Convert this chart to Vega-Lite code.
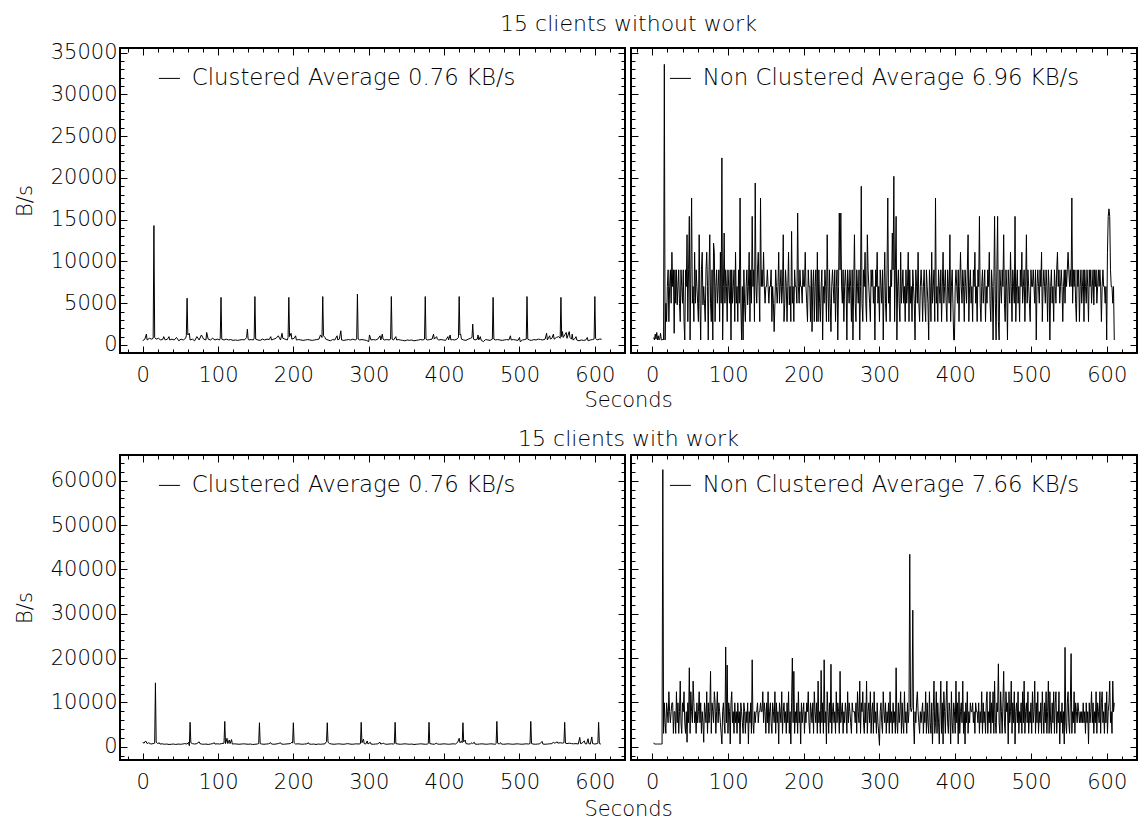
{
"$schema": "https://vega.github.io/schema/vega-lite/v6.json",
"background": "white",
"padding": {"left": 13, "top": 11, "right": 2, "bottom": 2},
"config": {
 "font": "DejaVu Sans",
 "view": {"stroke": "black", "strokeWidth": 2},
 "line": {"strokeWidth": 1, "strokeJoin": "round"},
 "axis": {"domain": false, "grid": false, "ticks": true, "tickColor": "black", "tickWidth": 1, "tickOpacity": 1, "labelFont": "DejaVu Sans", "labelFontSize": 21, "labelFontWeight": 200, "labelColor": "black", "labelFlush": false, "labelOverlap": false, "labelBound": false, "titleFont": "DejaVu Sans", "titleFontSize": 21, "titleFontWeight": 200, "titleColor": "black"},
 "legend": {"orient": "none", "legendX": 38, "legendY": 19, "symbolType": "stroke", "symbolSize": 441, "symbolStrokeWidth": 1, "labelFont": "DejaVu Sans", "labelFontSize": 22.8, "labelFontWeight": 200, "labelColor": "black", "labelLimit": 0, "labelOffset": 11, "padding": 0}
},
"datasets": {
"tl": [{"s":0,"b":500},{"s":3,"b":700},{"s":5,"b":1300},{"s":6,"b":600},{"s":9,"b":800},{"s":12,"b":700},{"s":14,"b":800},{"s":15,"b":14300},{"s":16,"b":900},{"s":18,"b":700},
{"s":21,"b":800},{"s":24,"b":600},{"s":27,"b":700},{"s":28,"b":1000},{"s":30,"b":600},{"s":33,"b":700},{"s":35,"b":1000},{"s":36,"b":600},{"s":39,"b":700},{"s":42,"b":600},
{"s":45,"b":900},{"s":48,"b":500},{"s":51,"b":700},{"s":54,"b":600},{"s":57,"b":800},{"s":58,"b":1100},{"s":59,"b":5600},{"s":60,"b":1200},{"s":62,"b":1400},{"s":63,"b":600},
{"s":66,"b":700},{"s":69,"b":500},{"s":72,"b":1000},{"s":75,"b":600},{"s":78,"b":1200},{"s":81,"b":700},{"s":84,"b":600},{"s":85,"b":1500},{"s":87,"b":700},{"s":90,"b":600},
{"s":93,"b":800},{"s":96,"b":600},{"s":99,"b":700},{"s":102,"b":600},{"s":103,"b":800},{"s":104,"b":5700},{"s":105,"b":700},{"s":108,"b":600},{"s":111,"b":700},{"s":114,"b":600},
{"s":117,"b":650},{"s":120,"b":550},{"s":123,"b":600},{"s":126,"b":550},{"s":129,"b":600},{"s":132,"b":650},{"s":135,"b":600},{"s":138,"b":900},{"s":139,"b":1900},{"s":140,"b":700},
{"s":141,"b":600},{"s":144,"b":650},{"s":147,"b":600},{"s":148,"b":800},{"s":149,"b":5800},{"s":150,"b":700},{"s":153,"b":600},{"s":156,"b":550},{"s":159,"b":700},{"s":162,"b":600},
{"s":165,"b":700},{"s":168,"b":650},{"s":170,"b":1000},{"s":171,"b":600},{"s":174,"b":700},{"s":177,"b":800},{"s":180,"b":1100},{"s":183,"b":600},{"s":185,"b":1400},{"s":186,"b":800},
{"s":189,"b":700},{"s":192,"b":600},{"s":193,"b":900},{"s":194,"b":5700},{"s":195,"b":1000},{"s":197,"b":1400},{"s":198,"b":700},{"s":201,"b":800},{"s":203,"b":1100},{"s":204,"b":600},
{"s":207,"b":650},{"s":210,"b":600},{"s":213,"b":550},{"s":216,"b":600},{"s":219,"b":650},{"s":222,"b":600},{"s":225,"b":550},{"s":228,"b":600},{"s":231,"b":650},{"s":234,"b":700},
{"s":236,"b":1200},{"s":238,"b":900},{"s":239,"b":5800},{"s":240,"b":1100},{"s":242,"b":900},{"s":243,"b":700},{"s":246,"b":600},{"s":249,"b":500},{"s":252,"b":650},{"s":255,"b":600},
{"s":258,"b":1100},{"s":259,"b":600},{"s":261,"b":700},{"s":263,"b":1700},{"s":264,"b":600},{"s":267,"b":550},{"s":270,"b":600},{"s":273,"b":650},{"s":276,"b":600},{"s":279,"b":700},
{"s":282,"b":600},{"s":284,"b":700},{"s":285,"b":6100},{"s":286,"b":700},{"s":288,"b":600},{"s":291,"b":650},{"s":294,"b":600},{"s":297,"b":550},{"s":300,"b":400},{"s":301,"b":1200},
{"s":303,"b":600},{"s":306,"b":650},{"s":309,"b":600},{"s":312,"b":700},{"s":315,"b":1100},{"s":316,"b":600},{"s":318,"b":1300},{"s":319,"b":700},{"s":321,"b":600},{"s":324,"b":650},
{"s":327,"b":600},{"s":329,"b":700},{"s":330,"b":5800},{"s":331,"b":700},{"s":333,"b":600},{"s":336,"b":1000},{"s":337,"b":600},{"s":339,"b":650},{"s":342,"b":600},{"s":345,"b":550},
{"s":348,"b":500},{"s":351,"b":600},{"s":354,"b":550},{"s":357,"b":600},{"s":360,"b":500},{"s":363,"b":550},{"s":366,"b":600},{"s":369,"b":650},{"s":372,"b":600},{"s":374,"b":700},
{"s":375,"b":5800},{"s":376,"b":700},{"s":378,"b":600},{"s":381,"b":650},{"s":384,"b":700},{"s":386,"b":1300},{"s":387,"b":700},{"s":390,"b":1000},{"s":391,"b":700},{"s":393,"b":600},
{"s":396,"b":650},{"s":399,"b":600},{"s":402,"b":550},{"s":405,"b":1000},{"s":406,"b":600},{"s":408,"b":1200},{"s":409,"b":600},{"s":411,"b":650},{"s":414,"b":600},{"s":417,"b":700},
{"s":419,"b":900},{"s":420,"b":5800},{"s":421,"b":1200},{"s":422,"b":1300},{"s":423,"b":700},{"s":426,"b":600},{"s":429,"b":550},{"s":432,"b":700},{"s":435,"b":800},{"s":437,"b":900},
{"s":438,"b":2500},{"s":439,"b":700},{"s":441,"b":600},{"s":444,"b":700},{"s":445,"b":1200},{"s":446,"b":600},{"s":448,"b":1000},{"s":449,"b":600},{"s":452,"b":400},{"s":455,"b":650},
{"s":458,"b":600},{"s":461,"b":550},{"s":464,"b":700},{"s":465,"b":5700},{"s":466,"b":700},{"s":468,"b":600},{"s":471,"b":650},{"s":474,"b":600},{"s":477,"b":550},{"s":480,"b":600},
{"s":483,"b":650},{"s":486,"b":600},{"s":488,"b":1100},{"s":489,"b":600},{"s":492,"b":650},{"s":495,"b":600},{"s":498,"b":550},{"s":500,"b":900},{"s":501,"b":400},{"s":504,"b":600},
{"s":507,"b":650},{"s":509,"b":700},{"s":510,"b":5800},{"s":511,"b":700},{"s":513,"b":600},{"s":516,"b":550},{"s":519,"b":650},{"s":522,"b":600},{"s":525,"b":700},{"s":528,"b":650},
{"s":531,"b":600},{"s":534,"b":700},{"s":536,"b":1400},{"s":537,"b":600},{"s":540,"b":1100},{"s":541,"b":700},{"s":543,"b":800},{"s":545,"b":1300},{"s":546,"b":700},{"s":549,"b":900},
{"s":552,"b":1000},{"s":554,"b":800},{"s":555,"b":5700},{"s":556,"b":1000},{"s":557,"b":1600},{"s":558,"b":900},{"s":560,"b":1200},{"s":562,"b":1500},{"s":563,"b":800},{"s":566,"b":1600},
{"s":567,"b":900},{"s":569,"b":700},{"s":570,"b":1300},{"s":571,"b":600},{"s":573,"b":700},{"s":575,"b":1000},{"s":576,"b":600},{"s":579,"b":500},{"s":582,"b":600},{"s":585,"b":550},
{"s":588,"b":600},{"s":590,"b":900},{"s":591,"b":500},{"s":594,"b":600},{"s":597,"b":650},{"s":599,"b":700},{"s":600,"b":5800},{"s":601,"b":800},{"s":603,"b":600},{"s":606,"b":700},{"s":609,"b":700}],
"bl": [{"s":0,"b":1000},{"s":2,"b":800},{"s":4,"b":1300},{"s":6,"b":700},{"s":8,"b":900},{"s":11,"b":600},{"s":14,"b":700},{"s":16,"b":800},{"s":17,"b":14400},{"s":18,"b":1000},
{"s":20,"b":700},{"s":22,"b":900},{"s":23,"b":600},{"s":26,"b":650},{"s":29,"b":550},{"s":32,"b":600},{"s":35,"b":500},{"s":38,"b":550},{"s":41,"b":600},{"s":44,"b":500},
{"s":47,"b":600},{"s":50,"b":550},{"s":53,"b":600},{"s":56,"b":700},{"s":59,"b":600},{"s":61,"b":1000},{"s":62,"b":200},{"s":63,"b":5500},{"s":64,"b":900},{"s":66,"b":700},
{"s":69,"b":600},{"s":72,"b":700},{"s":75,"b":1100},{"s":76,"b":700},{"s":78,"b":600},{"s":81,"b":550},{"s":84,"b":600},{"s":87,"b":500},{"s":90,"b":600},{"s":93,"b":700},
{"s":95,"b":900},{"s":96,"b":600},{"s":99,"b":650},{"s":102,"b":600},{"s":105,"b":700},{"s":108,"b":800},{"s":109,"b":5700},{"s":110,"b":700},{"s":112,"b":1900},{"s":113,"b":700},
{"s":115,"b":1500},{"s":116,"b":700},{"s":118,"b":1600},{"s":119,"b":600},{"s":122,"b":650},{"s":125,"b":600},{"s":128,"b":550},{"s":131,"b":600},{"s":134,"b":650},{"s":137,"b":600},
{"s":140,"b":550},{"s":143,"b":600},{"s":146,"b":500},{"s":149,"b":550},{"s":152,"b":600},{"s":154,"b":700},{"s":155,"b":5400},{"s":156,"b":700},{"s":158,"b":600},{"s":161,"b":550},
{"s":164,"b":600},{"s":167,"b":650},{"s":170,"b":900},{"s":171,"b":600},{"s":174,"b":550},{"s":177,"b":600},{"s":180,"b":700},{"s":183,"b":900},{"s":184,"b":600},{"s":187,"b":550},
{"s":190,"b":600},{"s":193,"b":650},{"s":196,"b":700},{"s":198,"b":1000},{"s":199,"b":800},{"s":200,"b":5400},{"s":201,"b":900},{"s":203,"b":600},{"s":206,"b":650},{"s":209,"b":600},
{"s":212,"b":550},{"s":215,"b":600},{"s":218,"b":650},{"s":220,"b":900},{"s":221,"b":600},{"s":224,"b":550},{"s":227,"b":600},{"s":230,"b":500},{"s":233,"b":600},{"s":236,"b":550},
{"s":239,"b":600},{"s":242,"b":650},{"s":244,"b":1200},{"s":245,"b":5400},{"s":246,"b":1000},{"s":248,"b":700},{"s":251,"b":600},{"s":254,"b":550},{"s":257,"b":600},{"s":260,"b":650},
{"s":263,"b":600},{"s":266,"b":550},{"s":269,"b":600},{"s":272,"b":700},{"s":275,"b":600},{"s":278,"b":550},{"s":281,"b":600},{"s":284,"b":650},{"s":287,"b":600},{"s":289,"b":700},
{"s":290,"b":5500},{"s":291,"b":900},{"s":293,"b":1700},{"s":294,"b":700},{"s":296,"b":600},{"s":298,"b":1300},{"s":299,"b":600},{"s":302,"b":1000},{"s":303,"b":600},{"s":306,"b":550},
{"s":309,"b":600},{"s":312,"b":650},{"s":315,"b":1000},{"s":316,"b":600},{"s":318,"b":700},{"s":320,"b":800},{"s":321,"b":600},{"s":324,"b":550},{"s":327,"b":600},{"s":330,"b":650},
{"s":333,"b":600},{"s":334,"b":700},{"s":335,"b":5500},{"s":336,"b":700},{"s":339,"b":600},{"s":342,"b":550},{"s":345,"b":600},{"s":348,"b":650},{"s":351,"b":600},{"s":354,"b":550},
{"s":357,"b":600},{"s":360,"b":500},{"s":363,"b":550},{"s":366,"b":600},{"s":369,"b":650},{"s":372,"b":600},{"s":375,"b":550},{"s":378,"b":600},{"s":379,"b":700},{"s":380,"b":5500},
{"s":381,"b":700},{"s":384,"b":600},{"s":387,"b":550},{"s":390,"b":800},{"s":391,"b":600},{"s":394,"b":550},{"s":397,"b":600},{"s":400,"b":650},{"s":403,"b":600},{"s":406,"b":550},
{"s":409,"b":600},{"s":412,"b":650},{"s":415,"b":600},{"s":418,"b":1000},{"s":420,"b":1900},{"s":421,"b":900},{"s":423,"b":1200},{"s":424,"b":900},{"s":425,"b":5400},{"s":426,"b":1100},
{"s":428,"b":1500},{"s":429,"b":700},{"s":432,"b":600},{"s":435,"b":650},{"s":437,"b":900},{"s":438,"b":700},{"s":440,"b":1000},{"s":441,"b":600},{"s":444,"b":550},{"s":447,"b":600},
{"s":450,"b":650},{"s":453,"b":600},{"s":456,"b":550},{"s":459,"b":600},{"s":462,"b":650},{"s":465,"b":600},{"s":468,"b":550},{"s":469,"b":700},{"s":470,"b":5700},{"s":471,"b":800},
{"s":473,"b":600},{"s":475,"b":900},{"s":476,"b":600},{"s":479,"b":550},{"s":482,"b":600},{"s":485,"b":650},{"s":488,"b":600},{"s":491,"b":550},{"s":494,"b":600},{"s":497,"b":650},
{"s":500,"b":600},{"s":503,"b":550},{"s":506,"b":600},{"s":509,"b":650},{"s":512,"b":600},{"s":514,"b":700},{"s":515,"b":5700},{"s":516,"b":700},{"s":518,"b":600},{"s":521,"b":550},
{"s":524,"b":600},{"s":527,"b":650},{"s":530,"b":1200},{"s":531,"b":600},{"s":534,"b":550},{"s":537,"b":600},{"s":540,"b":650},{"s":543,"b":700},{"s":545,"b":1000},{"s":546,"b":800},
{"s":548,"b":900},{"s":550,"b":1100},{"s":551,"b":800},{"s":554,"b":900},{"s":557,"b":800},{"s":559,"b":900},{"s":560,"b":5500},{"s":561,"b":800},{"s":563,"b":700},{"s":566,"b":800},
{"s":569,"b":700},{"s":572,"b":650},{"s":575,"b":700},{"s":578,"b":600},{"s":580,"b":2100},{"s":581,"b":700},{"s":583,"b":800},{"s":586,"b":1300},{"s":587,"b":700},{"s":589,"b":600},
{"s":591,"b":1800},{"s":592,"b":700},{"s":594,"b":600},{"s":596,"b":2200},{"s":597,"b":700},{"s":600,"b":600},{"s":603,"b":700},{"s":604,"b":800},{"s":605,"b":5500},{"s":606,"b":700},{"s":608,"b":600}],
"tr": [{"s":2,"b":900},{"s":3,"b":600},{"s":4,"b":1300},{"s":5,"b":700},{"s":6,"b":1500},{"s":7,"b":600},{"s":8,"b":1100},{"s":9,"b":600},{"s":10,"b":800},
{"s":11,"b":1400},{"s":12,"b":600},{"s":13,"b":600},{"s":14,"b":700},{"s":15,"b":600},{"s":16,"b":33600},{"s":17,"b":600},{"s":18,"b":5000},{"s":19,"b":2800},{"s":20,"b":7000},
{"s":21,"b":9000},{"s":22,"b":2800},{"s":23,"b":7000},{"s":24,"b":9000},{"s":25,"b":5000},{"s":26,"b":11100},{"s":27,"b":7000},{"s":28,"b":9000},{"s":29,"b":1400},{"s":30,"b":9000},
{"s":31,"b":5000},{"s":32,"b":9000},{"s":33,"b":4800},{"s":34,"b":7000},{"s":35,"b":9000},{"s":36,"b":5000},{"s":37,"b":2800},{"s":38,"b":9000},{"s":39,"b":7000},{"s":40,"b":5000},
{"s":41,"b":9000},{"s":42,"b":2800},{"s":43,"b":600},{"s":44,"b":9000},{"s":45,"b":7000},{"s":46,"b":13200},{"s":47,"b":2800},{"s":48,"b":9000},{"s":49,"b":15400},{"s":50,"b":600},
{"s":51,"b":9000},{"s":52,"b":17600},{"s":53,"b":5000},{"s":54,"b":7000},{"s":55,"b":2800},{"s":56,"b":11100},{"s":57,"b":5000},{"s":58,"b":9000},{"s":59,"b":7000},{"s":60,"b":5000},
{"s":61,"b":2800},{"s":62,"b":13200},{"s":63,"b":5000},{"s":64,"b":600},{"s":65,"b":9000},{"s":66,"b":11100},{"s":67,"b":4800},{"s":68,"b":7000},{"s":69,"b":5000},{"s":70,"b":2800},
{"s":71,"b":9000},{"s":72,"b":11100},{"s":73,"b":7000},{"s":74,"b":600},{"s":75,"b":9000},{"s":76,"b":13200},{"s":77,"b":5000},{"s":78,"b":2800},{"s":79,"b":9000},{"s":80,"b":600},
{"s":81,"b":12200},{"s":82,"b":11100},{"s":83,"b":2800},{"s":84,"b":7000},{"s":85,"b":9000},{"s":86,"b":5000},{"s":87,"b":7000},{"s":88,"b":9000},{"s":89,"b":2800},{"s":90,"b":11100},
{"s":91,"b":5000},{"s":92,"b":22400},{"s":93,"b":600},{"s":94,"b":7000},{"s":95,"b":13400},{"s":96,"b":5000},{"s":97,"b":9000},{"s":98,"b":7000},{"s":99,"b":2800},{"s":100,"b":9000},
{"s":101,"b":7000},{"s":102,"b":5000},{"s":103,"b":9000},{"s":104,"b":600},{"s":105,"b":9000},{"s":106,"b":5000},{"s":107,"b":7000},{"s":108,"b":9000},{"s":109,"b":2800},{"s":110,"b":11100},
{"s":111,"b":5000},{"s":112,"b":7000},{"s":113,"b":2800},{"s":114,"b":9000},{"s":115,"b":5000},{"s":116,"b":17600},{"s":117,"b":5000},{"s":118,"b":600},{"s":119,"b":7000},{"s":120,"b":600},
{"s":121,"b":9000},{"s":122,"b":5000},{"s":123,"b":2800},{"s":124,"b":7000},{"s":125,"b":9000},{"s":126,"b":4800},{"s":127,"b":7000},{"s":128,"b":11100},{"s":129,"b":2800},{"s":130,"b":9000},
{"s":131,"b":5000},{"s":132,"b":15400},{"s":133,"b":7000},{"s":134,"b":9000},{"s":135,"b":2800},{"s":136,"b":19400},{"s":137,"b":7000},{"s":138,"b":5000},{"s":139,"b":9000},{"s":140,"b":11100},
{"s":141,"b":7000},{"s":142,"b":2800},{"s":143,"b":17600},{"s":144,"b":7000},{"s":145,"b":9000},{"s":146,"b":7000},{"s":147,"b":11100},{"s":148,"b":7000},{"s":149,"b":5000},{"s":150,"b":7000},
{"s":151,"b":7000},{"s":152,"b":9000},{"s":153,"b":7000},{"s":154,"b":5000},{"s":155,"b":7000},{"s":156,"b":7000},{"s":157,"b":9000},{"s":158,"b":2800},{"s":159,"b":7000},{"s":160,"b":5000},
{"s":161,"b":1600},{"s":162,"b":5000},{"s":163,"b":9000},{"s":164,"b":7000},{"s":165,"b":5000},{"s":166,"b":7000},{"s":167,"b":11100},{"s":168,"b":5000},{"s":169,"b":7000},{"s":170,"b":9000},
{"s":171,"b":5000},{"s":172,"b":7000},{"s":173,"b":13200},{"s":174,"b":2800},{"s":175,"b":5000},{"s":176,"b":9000},{"s":177,"b":7000},{"s":178,"b":2800},{"s":179,"b":7000},{"s":180,"b":11100},
{"s":181,"b":4800},{"s":182,"b":7000},{"s":183,"b":2800},{"s":184,"b":13600},{"s":185,"b":5000},{"s":186,"b":7000},{"s":187,"b":2800},{"s":188,"b":9000},{"s":189,"b":7000},{"s":190,"b":7000},
{"s":191,"b":5000},{"s":192,"b":15800},{"s":193,"b":7000},{"s":194,"b":5000},{"s":195,"b":9000},{"s":196,"b":7000},{"s":197,"b":7000},{"s":198,"b":5000},{"s":199,"b":9000},{"s":200,"b":7000},
{"s":201,"b":7000},{"s":202,"b":11100},{"s":203,"b":7000},{"s":204,"b":5000},{"s":205,"b":2800},{"s":206,"b":9000},{"s":207,"b":7000},{"s":208,"b":7000},{"s":209,"b":2800},{"s":210,"b":9000},
{"s":211,"b":1600},{"s":212,"b":7000},{"s":213,"b":9000},{"s":214,"b":2800},{"s":215,"b":7000},{"s":216,"b":9000},{"s":217,"b":2800},{"s":218,"b":11100},{"s":219,"b":2800},{"s":220,"b":9000},
{"s":221,"b":5000},{"s":222,"b":2800},{"s":223,"b":7000},{"s":224,"b":9000},{"s":225,"b":600},{"s":226,"b":7000},{"s":227,"b":5000},{"s":228,"b":9000},{"s":229,"b":7000},{"s":230,"b":2800},
{"s":231,"b":13200},{"s":232,"b":7000},{"s":233,"b":2800},{"s":234,"b":9000},{"s":235,"b":5000},{"s":236,"b":1600},{"s":237,"b":7000},{"s":238,"b":9000},{"s":239,"b":7000},{"s":240,"b":5000},
{"s":241,"b":9000},{"s":242,"b":2800},{"s":243,"b":7000},{"s":244,"b":9000},{"s":245,"b":600},{"s":246,"b":7000},{"s":247,"b":15800},{"s":248,"b":9000},{"s":249,"b":15800},{"s":250,"b":7000},
{"s":251,"b":5000},{"s":252,"b":9000},{"s":253,"b":2800},{"s":254,"b":7000},{"s":255,"b":9000},{"s":256,"b":7000},{"s":257,"b":600},{"s":258,"b":9000},{"s":259,"b":7000},{"s":260,"b":5000},
{"s":261,"b":9000},{"s":262,"b":7000},{"s":263,"b":2800},{"s":264,"b":9000},{"s":265,"b":600},{"s":266,"b":7000},{"s":267,"b":13200},{"s":268,"b":5000},{"s":269,"b":2800},{"s":270,"b":9000},
{"s":271,"b":7000},{"s":272,"b":5000},{"s":273,"b":9000},{"s":274,"b":600},{"s":275,"b":7000},{"s":276,"b":19000},{"s":277,"b":5000},{"s":278,"b":2800},{"s":279,"b":9000},{"s":280,"b":7000},
{"s":281,"b":11100},{"s":282,"b":5000},{"s":283,"b":2800},{"s":284,"b":13200},{"s":285,"b":9000},{"s":286,"b":7000},{"s":287,"b":5000},{"s":288,"b":2800},{"s":289,"b":9000},{"s":290,"b":7000},
{"s":291,"b":9000},{"s":292,"b":5000},{"s":293,"b":7000},{"s":294,"b":600},{"s":295,"b":9000},{"s":296,"b":7000},{"s":297,"b":11100},{"s":298,"b":5000},{"s":299,"b":7000},{"s":300,"b":2800},
{"s":301,"b":9000},{"s":302,"b":7000},{"s":303,"b":5000},{"s":304,"b":9000},{"s":305,"b":600},{"s":306,"b":7000},{"s":307,"b":11100},{"s":308,"b":5000},{"s":309,"b":2800},{"s":310,"b":9000},
{"s":311,"b":17600},{"s":312,"b":5000},{"s":313,"b":7000},{"s":314,"b":2800},{"s":315,"b":9000},{"s":316,"b":7000},{"s":317,"b":13400},{"s":318,"b":9000},{"s":319,"b":20200},{"s":320,"b":2800},
{"s":321,"b":9000},{"s":322,"b":15400},{"s":323,"b":600},{"s":324,"b":7000},{"s":325,"b":9000},{"s":326,"b":5000},{"s":327,"b":2800},{"s":328,"b":11100},{"s":329,"b":5000},{"s":330,"b":7000},
{"s":331,"b":9000},{"s":332,"b":5000},{"s":333,"b":7000},{"s":334,"b":2800},{"s":335,"b":9000},{"s":336,"b":5000},{"s":337,"b":7000},{"s":338,"b":11100},{"s":339,"b":2800},{"s":340,"b":9000},
{"s":341,"b":5000},{"s":342,"b":7000},{"s":343,"b":2800},{"s":344,"b":9000},{"s":345,"b":7000},{"s":346,"b":5000},{"s":347,"b":600},{"s":348,"b":9000},{"s":349,"b":7000},{"s":350,"b":5000},
{"s":351,"b":11100},{"s":352,"b":5000},{"s":353,"b":2800},{"s":354,"b":7000},{"s":355,"b":9000},{"s":356,"b":7000},{"s":357,"b":2800},{"s":358,"b":7000},{"s":359,"b":9000},{"s":360,"b":5000},
{"s":361,"b":2800},{"s":362,"b":9000},{"s":363,"b":7000},{"s":364,"b":5000},{"s":365,"b":600},{"s":366,"b":9000},{"s":367,"b":7000},{"s":368,"b":2800},{"s":369,"b":11100},{"s":370,"b":5000},
{"s":371,"b":7000},{"s":372,"b":9000},{"s":373,"b":2800},{"s":374,"b":17600},{"s":375,"b":5000},{"s":376,"b":7000},{"s":377,"b":2800},{"s":378,"b":9000},{"s":379,"b":7000},{"s":380,"b":5000},
{"s":381,"b":9000},{"s":382,"b":2800},{"s":383,"b":7000},{"s":384,"b":11100},{"s":385,"b":5000},{"s":386,"b":7000},{"s":387,"b":9000},{"s":388,"b":5000},{"s":389,"b":2800},{"s":390,"b":9000},
{"s":391,"b":7000},{"s":392,"b":5000},{"s":393,"b":13200},{"s":394,"b":2800},{"s":395,"b":7000},{"s":396,"b":9000},{"s":397,"b":5000},{"s":398,"b":600},{"s":399,"b":600},{"s":400,"b":7000},
{"s":401,"b":9000},{"s":402,"b":7000},{"s":403,"b":5000},{"s":404,"b":9000},{"s":405,"b":2800},{"s":406,"b":7000},{"s":407,"b":11100},{"s":408,"b":7000},{"s":409,"b":5000},{"s":410,"b":9000},
{"s":411,"b":7000},{"s":412,"b":2800},{"s":413,"b":9000},{"s":414,"b":7000},{"s":415,"b":5000},{"s":416,"b":9000},{"s":417,"b":13200},{"s":418,"b":2800},{"s":419,"b":7000},{"s":420,"b":9000},
{"s":421,"b":5000},{"s":422,"b":7000},{"s":423,"b":2800},{"s":424,"b":9000},{"s":425,"b":7000},{"s":426,"b":11100},{"s":427,"b":5000},{"s":428,"b":7000},{"s":429,"b":2800},{"s":430,"b":9000},
{"s":431,"b":7000},{"s":432,"b":15400},{"s":433,"b":5000},{"s":434,"b":2800},{"s":435,"b":7000},{"s":436,"b":9000},{"s":437,"b":5000},{"s":438,"b":7000},{"s":439,"b":9000},{"s":440,"b":2800},
{"s":441,"b":7000},{"s":442,"b":5000},{"s":443,"b":9000},{"s":444,"b":7000},{"s":445,"b":11100},{"s":446,"b":5000},{"s":447,"b":2800},{"s":448,"b":9000},{"s":449,"b":7000},{"s":450,"b":600},
{"s":451,"b":7000},{"s":452,"b":15400},{"s":453,"b":5000},{"s":454,"b":600},{"s":455,"b":9000},{"s":456,"b":15400},{"s":457,"b":2800},{"s":458,"b":600},{"s":459,"b":9000},{"s":460,"b":7000},
{"s":461,"b":5000},{"s":462,"b":9000},{"s":463,"b":7000},{"s":464,"b":13200},{"s":465,"b":5000},{"s":466,"b":2800},{"s":467,"b":9000},{"s":468,"b":7000},{"s":469,"b":600},{"s":470,"b":9000},
{"s":471,"b":7000},{"s":472,"b":5000},{"s":473,"b":11100},{"s":474,"b":7000},{"s":475,"b":2800},{"s":476,"b":9000},{"s":477,"b":7000},{"s":478,"b":5000},{"s":479,"b":15400},{"s":480,"b":2800},
{"s":481,"b":7000},{"s":482,"b":9000},{"s":483,"b":5000},{"s":484,"b":7000},{"s":485,"b":2800},{"s":486,"b":9000},{"s":487,"b":7000},{"s":488,"b":11100},{"s":489,"b":5000},{"s":490,"b":7000},
{"s":491,"b":9000},{"s":492,"b":2800},{"s":493,"b":7000},{"s":494,"b":13200},{"s":495,"b":5000},{"s":496,"b":9000},{"s":497,"b":7000},{"s":498,"b":5000},{"s":499,"b":2800},{"s":500,"b":9000},
{"s":501,"b":7000},{"s":502,"b":7000},{"s":503,"b":9000},{"s":504,"b":7000},{"s":505,"b":5000},{"s":506,"b":9000},{"s":507,"b":600},{"s":508,"b":7000},{"s":509,"b":9000},{"s":510,"b":7000},
{"s":511,"b":5000},{"s":512,"b":9000},{"s":513,"b":7000},{"s":514,"b":11100},{"s":515,"b":2800},{"s":516,"b":7000},{"s":517,"b":9000},{"s":518,"b":7000},{"s":519,"b":5000},{"s":520,"b":9000},
{"s":521,"b":7000},{"s":522,"b":2800},{"s":523,"b":9000},{"s":524,"b":7000},{"s":525,"b":600},{"s":526,"b":7000},{"s":527,"b":9000},{"s":528,"b":5000},{"s":529,"b":7000},{"s":530,"b":2800},
{"s":531,"b":9000},{"s":532,"b":7000},{"s":533,"b":5000},{"s":534,"b":9000},{"s":535,"b":11100},{"s":536,"b":7000},{"s":537,"b":9000},{"s":538,"b":5000},{"s":539,"b":7000},{"s":540,"b":9000},
{"s":541,"b":7000},{"s":542,"b":2800},{"s":543,"b":7000},{"s":544,"b":9000},{"s":545,"b":5000},{"s":546,"b":9000},{"s":547,"b":7000},{"s":548,"b":9000},{"s":549,"b":11100},{"s":550,"b":9000},
{"s":551,"b":7000},{"s":552,"b":9000},{"s":553,"b":7000},{"s":554,"b":17600},{"s":555,"b":5000},{"s":556,"b":9000},{"s":557,"b":7000},{"s":558,"b":9000},{"s":559,"b":5000},{"s":560,"b":2800},
{"s":561,"b":9000},{"s":562,"b":7000},{"s":563,"b":9000},{"s":564,"b":2800},{"s":565,"b":7000},{"s":566,"b":9000},{"s":567,"b":5000},{"s":568,"b":7000},{"s":569,"b":9000},{"s":570,"b":2800},
{"s":571,"b":9000},{"s":572,"b":7000},{"s":573,"b":5000},{"s":574,"b":9000},{"s":575,"b":7000},{"s":576,"b":2800},{"s":577,"b":9000},{"s":578,"b":7000},{"s":579,"b":9000},{"s":580,"b":5000},
{"s":581,"b":7000},{"s":582,"b":9000},{"s":583,"b":4800},{"s":584,"b":9000},{"s":585,"b":7000},{"s":586,"b":9000},{"s":587,"b":5000},{"s":588,"b":7000},{"s":589,"b":9000},{"s":590,"b":7000},
{"s":591,"b":9000},{"s":592,"b":7000},{"s":593,"b":2800},{"s":594,"b":7000},{"s":595,"b":9000},{"s":596,"b":7000},{"s":597,"b":7000},{"s":598,"b":5000},{"s":599,"b":7000},{"s":600,"b":600},
{"s":601,"b":11100},{"s":602,"b":15400},{"s":603,"b":16300},{"s":604,"b":15400},{"s":605,"b":9000},{"s":606,"b":7000},{"s":607,"b":7000},{"s":608,"b":5000},{"s":609,"b":7000},{"s":610,"b":600}],
"br": [{"s":2,"b":900},{"s":3,"b":600},{"s":4,"b":600},{"s":5,"b":600},{"s":6,"b":600},{"s":7,"b":600},{"s":8,"b":600},{"s":9,"b":600},{"s":10,"b":600},
{"s":11,"b":600},{"s":12,"b":600},{"s":13,"b":600},{"s":14,"b":62500},{"s":15,"b":3000},{"s":16,"b":9900},{"s":17,"b":5400},{"s":18,"b":3000},{"s":19,"b":9900},{"s":20,"b":7900},
{"s":21,"b":5400},{"s":22,"b":12400},{"s":23,"b":7900},{"s":24,"b":5400},{"s":25,"b":7900},{"s":26,"b":9900},{"s":27,"b":9900},{"s":28,"b":3000},{"s":29,"b":7900},{"s":30,"b":7900},
{"s":31,"b":3000},{"s":32,"b":12400},{"s":33,"b":5400},{"s":34,"b":9900},{"s":35,"b":3000},{"s":36,"b":7900},{"s":37,"b":14800},{"s":38,"b":5400},{"s":39,"b":3000},{"s":40,"b":9900},
{"s":41,"b":7900},{"s":42,"b":12400},{"s":43,"b":5400},{"s":44,"b":3000},{"s":45,"b":7900},{"s":46,"b":1000},{"s":47,"b":9900},{"s":48,"b":5400},{"s":49,"b":17800},{"s":50,"b":3000},
{"s":51,"b":12400},{"s":52,"b":7900},{"s":53,"b":5400},{"s":54,"b":14800},{"s":55,"b":9900},{"s":56,"b":5400},{"s":57,"b":7900},{"s":58,"b":3000},{"s":59,"b":9900},{"s":60,"b":5400},
{"s":61,"b":7900},{"s":62,"b":12400},{"s":63,"b":5400},{"s":64,"b":9900},{"s":65,"b":3000},{"s":66,"b":7900},{"s":67,"b":5400},{"s":68,"b":1000},{"s":69,"b":9900},{"s":70,"b":7900},
{"s":71,"b":5400},{"s":72,"b":12400},{"s":73,"b":3000},{"s":74,"b":9900},{"s":75,"b":5400},{"s":76,"b":7900},{"s":77,"b":17000},{"s":78,"b":3000},{"s":79,"b":9900},{"s":80,"b":7900},
{"s":81,"b":5400},{"s":82,"b":12400},{"s":83,"b":9900},{"s":84,"b":3000},{"s":85,"b":7900},{"s":86,"b":12400},{"s":87,"b":5400},{"s":88,"b":9900},{"s":89,"b":7900},{"s":90,"b":5400},
{"s":91,"b":3000},{"s":92,"b":600},{"s":93,"b":7900},{"s":94,"b":9900},{"s":95,"b":5400},{"s":96,"b":3000},{"s":97,"b":22500},{"s":98,"b":5400},{"s":99,"b":18400},{"s":100,"b":3000},
{"s":101,"b":9900},{"s":102,"b":7900},{"s":103,"b":600},{"s":104,"b":9900},{"s":105,"b":12400},{"s":106,"b":5400},{"s":107,"b":7900},{"s":108,"b":3000},{"s":109,"b":9900},{"s":110,"b":5400},
{"s":111,"b":7900},{"s":112,"b":3000},{"s":113,"b":9900},{"s":114,"b":5400},{"s":115,"b":7900},{"s":116,"b":600},{"s":117,"b":9900},{"s":118,"b":7900},{"s":119,"b":5400},{"s":120,"b":3000},
{"s":121,"b":9900},{"s":122,"b":7900},{"s":123,"b":3000},{"s":124,"b":7900},{"s":125,"b":5400},{"s":126,"b":9900},{"s":127,"b":600},{"s":128,"b":7900},{"s":129,"b":5400},{"s":130,"b":9900},
{"s":131,"b":3000},{"s":132,"b":19600},{"s":133,"b":5400},{"s":134,"b":3000},{"s":135,"b":7900},{"s":136,"b":5400},{"s":137,"b":7900},{"s":138,"b":7900},{"s":139,"b":9900},{"s":140,"b":5400},
{"s":141,"b":7900},{"s":142,"b":7900},{"s":143,"b":9900},{"s":144,"b":7900},{"s":145,"b":7900},{"s":146,"b":12400},{"s":147,"b":5400},{"s":148,"b":9900},{"s":149,"b":7900},{"s":150,"b":3000},
{"s":151,"b":9900},{"s":152,"b":5400},{"s":153,"b":12400},{"s":154,"b":3000},{"s":155,"b":7900},{"s":156,"b":9900},{"s":157,"b":5400},{"s":158,"b":3000},{"s":159,"b":9900},{"s":160,"b":7900},
{"s":161,"b":5400},{"s":162,"b":12400},{"s":163,"b":3000},{"s":164,"b":9900},{"s":165,"b":5400},{"s":166,"b":7900},{"s":167,"b":600},{"s":168,"b":9900},{"s":169,"b":7900},{"s":170,"b":5400},
{"s":171,"b":12400},{"s":172,"b":3000},{"s":173,"b":7900},{"s":174,"b":9900},{"s":175,"b":5400},{"s":176,"b":7900},{"s":177,"b":3000},{"s":178,"b":9900},{"s":179,"b":5400},{"s":180,"b":12400},
{"s":181,"b":3000},{"s":182,"b":7900},{"s":183,"b":600},{"s":184,"b":9900},{"s":185,"b":20000},{"s":186,"b":5400},{"s":187,"b":17000},{"s":188,"b":3000},{"s":189,"b":7900},{"s":190,"b":5400},
{"s":191,"b":9900},{"s":192,"b":3000},{"s":193,"b":12400},{"s":194,"b":5400},{"s":195,"b":7900},{"s":196,"b":600},{"s":197,"b":9900},{"s":198,"b":5400},{"s":199,"b":7900},{"s":200,"b":9900},
{"s":201,"b":3000},{"s":202,"b":7900},{"s":203,"b":5400},{"s":204,"b":9900},{"s":205,"b":7900},{"s":206,"b":12400},{"s":207,"b":5400},{"s":208,"b":3000},{"s":209,"b":9900},{"s":210,"b":7900},
{"s":211,"b":5400},{"s":212,"b":9900},{"s":213,"b":3000},{"s":214,"b":12400},{"s":215,"b":7900},{"s":216,"b":5400},{"s":217,"b":9900},{"s":218,"b":3000},{"s":219,"b":14800},{"s":220,"b":5400},
{"s":221,"b":7900},{"s":222,"b":3000},{"s":223,"b":17200},{"s":224,"b":5400},{"s":225,"b":9900},{"s":226,"b":3000},{"s":227,"b":19600},{"s":228,"b":5400},{"s":229,"b":7900},{"s":230,"b":600},
{"s":231,"b":12400},{"s":232,"b":7900},{"s":233,"b":3000},{"s":234,"b":9900},{"s":235,"b":5400},{"s":236,"b":18600},{"s":237,"b":3000},{"s":238,"b":7900},{"s":239,"b":9900},{"s":240,"b":5400},
{"s":241,"b":7900},{"s":242,"b":3000},{"s":243,"b":12400},{"s":244,"b":5400},{"s":245,"b":9900},{"s":246,"b":7900},{"s":247,"b":3000},{"s":248,"b":17000},{"s":249,"b":5400},{"s":250,"b":7900},
{"s":251,"b":9900},{"s":252,"b":3000},{"s":253,"b":7900},{"s":254,"b":5400},{"s":255,"b":9900},{"s":256,"b":7900},{"s":257,"b":3000},{"s":258,"b":12400},{"s":259,"b":5400},{"s":260,"b":9900},
{"s":261,"b":7900},{"s":262,"b":5400},{"s":263,"b":3000},{"s":264,"b":9900},{"s":265,"b":7900},{"s":266,"b":7900},{"s":267,"b":7900},{"s":268,"b":5400},{"s":269,"b":9900},{"s":270,"b":3000},
{"s":271,"b":12400},{"s":272,"b":7900},{"s":273,"b":5400},{"s":274,"b":14800},{"s":275,"b":3000},{"s":276,"b":9900},{"s":277,"b":7900},{"s":278,"b":12400},{"s":279,"b":5400},{"s":280,"b":3000},
{"s":281,"b":9900},{"s":282,"b":5400},{"s":283,"b":14800},{"s":284,"b":3000},{"s":285,"b":7900},{"s":286,"b":9900},{"s":287,"b":5400},{"s":288,"b":12400},{"s":289,"b":3000},{"s":290,"b":7900},
{"s":291,"b":9900},{"s":292,"b":3000},{"s":293,"b":12400},{"s":294,"b":5400},{"s":295,"b":7900},{"s":296,"b":3000},{"s":297,"b":9900},{"s":298,"b":5400},{"s":299,"b":3000},{"s":300,"b":300},
{"s":301,"b":7900},{"s":302,"b":9900},{"s":303,"b":5400},{"s":304,"b":3000},{"s":305,"b":12400},{"s":306,"b":7900},{"s":307,"b":5400},{"s":308,"b":9900},{"s":309,"b":3000},{"s":310,"b":7900},
{"s":311,"b":5400},{"s":312,"b":9900},{"s":313,"b":3000},{"s":314,"b":12400},{"s":315,"b":5400},{"s":316,"b":7900},{"s":317,"b":3000},{"s":318,"b":9900},{"s":319,"b":5400},{"s":320,"b":7900},
{"s":321,"b":3000},{"s":322,"b":17800},{"s":323,"b":5400},{"s":324,"b":3000},{"s":325,"b":9900},{"s":326,"b":5400},{"s":327,"b":7900},{"s":328,"b":12400},{"s":329,"b":3000},{"s":330,"b":9900},
{"s":331,"b":5400},{"s":332,"b":3000},{"s":333,"b":12400},{"s":334,"b":5400},{"s":335,"b":7900},{"s":336,"b":3000},{"s":337,"b":9900},{"s":338,"b":5400},{"s":339,"b":7900},{"s":340,"b":43400},
{"s":341,"b":8800},{"s":342,"b":7900},{"s":343,"b":8800},{"s":344,"b":30800},{"s":345,"b":5400},{"s":346,"b":600},{"s":347,"b":7900},{"s":348,"b":5400},{"s":349,"b":9900},{"s":350,"b":12400},
{"s":351,"b":7900},{"s":352,"b":5400},{"s":353,"b":3000},{"s":354,"b":7900},{"s":355,"b":5400},{"s":356,"b":7900},{"s":357,"b":9900},{"s":358,"b":3000},{"s":359,"b":7900},{"s":360,"b":5400},
{"s":361,"b":12400},{"s":362,"b":3000},{"s":363,"b":9900},{"s":364,"b":5400},{"s":365,"b":3000},{"s":366,"b":12400},{"s":367,"b":5400},{"s":368,"b":3000},{"s":369,"b":9900},{"s":370,"b":600},
{"s":371,"b":7900},{"s":372,"b":14800},{"s":373,"b":3000},{"s":374,"b":5400},{"s":375,"b":12400},{"s":376,"b":3000},{"s":377,"b":9900},{"s":378,"b":5400},{"s":379,"b":600},{"s":380,"b":7900},
{"s":381,"b":14800},{"s":382,"b":3000},{"s":383,"b":9900},{"s":384,"b":600},{"s":385,"b":12400},{"s":386,"b":7900},{"s":387,"b":3000},{"s":388,"b":9900},{"s":389,"b":14800},{"s":390,"b":5400},
{"s":391,"b":3000},{"s":392,"b":9900},{"s":393,"b":7900},{"s":394,"b":600},{"s":395,"b":12400},{"s":396,"b":5400},{"s":397,"b":3000},{"s":398,"b":9900},{"s":399,"b":7900},{"s":400,"b":3000},
{"s":401,"b":14800},{"s":402,"b":5400},{"s":403,"b":9900},{"s":404,"b":600},{"s":405,"b":12400},{"s":406,"b":3000},{"s":407,"b":7900},{"s":408,"b":9900},{"s":409,"b":5400},{"s":410,"b":14800},
{"s":411,"b":3000},{"s":412,"b":7900},{"s":413,"b":600},{"s":414,"b":9900},{"s":415,"b":5400},{"s":416,"b":12400},{"s":417,"b":3000},{"s":418,"b":7900},{"s":419,"b":5400},{"s":420,"b":9900},
{"s":421,"b":7900},{"s":422,"b":7900},{"s":423,"b":9900},{"s":424,"b":5400},{"s":425,"b":7900},{"s":426,"b":3000},{"s":427,"b":9900},{"s":428,"b":7900},{"s":429,"b":7900},{"s":430,"b":5400},
{"s":431,"b":9900},{"s":432,"b":3000},{"s":433,"b":7900},{"s":434,"b":5400},{"s":435,"b":12400},{"s":436,"b":3000},{"s":437,"b":9900},{"s":438,"b":5400},{"s":439,"b":7900},{"s":440,"b":3000},
{"s":441,"b":9900},{"s":442,"b":12400},{"s":443,"b":3000},{"s":444,"b":7900},{"s":445,"b":5400},{"s":446,"b":12400},{"s":447,"b":3000},{"s":448,"b":9900},{"s":449,"b":5400},{"s":450,"b":12400},
{"s":451,"b":3000},{"s":452,"b":14800},{"s":453,"b":5400},{"s":454,"b":3000},{"s":455,"b":9900},{"s":456,"b":7900},{"s":457,"b":18700},{"s":458,"b":5400},{"s":459,"b":3000},{"s":460,"b":12400},
{"s":461,"b":7900},{"s":462,"b":3000},{"s":463,"b":9900},{"s":464,"b":17000},{"s":465,"b":5400},{"s":466,"b":3000},{"s":467,"b":12400},{"s":468,"b":7900},{"s":469,"b":9900},{"s":470,"b":600},
{"s":471,"b":12400},{"s":472,"b":5400},{"s":473,"b":7900},{"s":474,"b":14800},{"s":475,"b":3000},{"s":476,"b":9900},{"s":477,"b":5400},{"s":478,"b":12400},{"s":479,"b":600},{"s":480,"b":7900},
{"s":481,"b":9900},{"s":482,"b":5400},{"s":483,"b":12400},{"s":484,"b":3000},{"s":485,"b":7900},{"s":486,"b":5400},{"s":487,"b":9900},{"s":488,"b":3000},{"s":489,"b":12400},{"s":490,"b":5400},
{"s":491,"b":14800},{"s":492,"b":3000},{"s":493,"b":7900},{"s":494,"b":9900},{"s":495,"b":5400},{"s":496,"b":12400},{"s":497,"b":3000},{"s":498,"b":7900},{"s":499,"b":5400},{"s":500,"b":9900},
{"s":501,"b":3000},{"s":502,"b":12400},{"s":503,"b":5400},{"s":504,"b":7900},{"s":505,"b":14800},{"s":506,"b":3000},{"s":507,"b":9900},{"s":508,"b":5400},{"s":509,"b":12400},{"s":510,"b":3000},
{"s":511,"b":7900},{"s":512,"b":5400},{"s":513,"b":9900},{"s":514,"b":3000},{"s":515,"b":12400},{"s":516,"b":7900},{"s":517,"b":3000},{"s":518,"b":9900},{"s":519,"b":5400},{"s":520,"b":12400},
{"s":521,"b":3000},{"s":522,"b":7900},{"s":523,"b":14800},{"s":524,"b":3000},{"s":525,"b":12400},{"s":526,"b":5400},{"s":527,"b":3000},{"s":528,"b":9900},{"s":529,"b":5400},{"s":530,"b":12400},
{"s":531,"b":3000},{"s":532,"b":9900},{"s":533,"b":12400},{"s":534,"b":3000},{"s":535,"b":7900},{"s":536,"b":5400},{"s":537,"b":12400},{"s":538,"b":600},{"s":539,"b":7900},{"s":540,"b":5400},
{"s":541,"b":9900},{"s":542,"b":3000},{"s":543,"b":7900},{"s":544,"b":600},{"s":545,"b":22400},{"s":546,"b":5400},{"s":547,"b":3000},{"s":548,"b":9900},{"s":549,"b":12400},{"s":550,"b":5400},
{"s":551,"b":3000},{"s":552,"b":9900},{"s":553,"b":21000},{"s":554,"b":3000},{"s":555,"b":7900},{"s":556,"b":5400},{"s":557,"b":12400},{"s":558,"b":3000},{"s":559,"b":9900},{"s":560,"b":7900},
{"s":561,"b":5400},{"s":562,"b":9900},{"s":563,"b":7900},{"s":564,"b":5400},{"s":565,"b":7900},{"s":566,"b":5400},{"s":567,"b":7900},{"s":568,"b":5400},{"s":569,"b":9900},{"s":570,"b":5400},
{"s":571,"b":7900},{"s":572,"b":3000},{"s":573,"b":9900},{"s":574,"b":5400},{"s":575,"b":7900},{"s":576,"b":600},{"s":577,"b":9900},{"s":578,"b":5400},{"s":579,"b":7900},{"s":580,"b":12400},
{"s":581,"b":5400},{"s":582,"b":9900},{"s":583,"b":3000},{"s":584,"b":7900},{"s":585,"b":5400},{"s":586,"b":12400},{"s":587,"b":3000},{"s":588,"b":9900},{"s":589,"b":7900},{"s":590,"b":5400},
{"s":591,"b":12400},{"s":592,"b":3000},{"s":593,"b":9900},{"s":594,"b":12400},{"s":595,"b":5400},{"s":596,"b":7900},{"s":597,"b":3000},{"s":598,"b":9900},{"s":599,"b":5400},{"s":600,"b":12400},
{"s":601,"b":3000},{"s":602,"b":7900},{"s":603,"b":9900},{"s":604,"b":14800},{"s":605,"b":5400},{"s":606,"b":7900},{"s":607,"b":3000},{"s":608,"b":14800},{"s":609,"b":7900},{"s":610,"b":9900}]
},
"columns": 2,
"bounds": "flush",
"spacing": {"row": 102, "column": 6},
"resolve": {"scale": {"color": "independent"}, "legend": {"color": "independent"}},
"concat": [
 {"width": 505, "height": 305, "data": {"name": "tl"},
  "layer": [
   {"mark": {"type": "line"},
    "encoding": {
     "x": {"field": "s", "type": "quantitative", "scale": {"domain": [-30, 640], "nice": false, "zero": false},
      "axis": {"orient": "bottom", "values": [0,100,200,300,400,500,600], "format": "d", "tickSize": -7, "labelPadding": 18, "title": "Seconds", "titleX": 508, "titleY": 53, "titleBaseline": "alphabetic", "titleAlign": "center"}},
     "y": {"field": "b", "type": "quantitative", "scale": {"domain": [-960, 35560], "nice": false, "zero": false},
      "axis": {"orient": "left", "values": [0,5000,10000,15000,20000,25000,30000,35000], "format": "d", "tickSize": -7, "labelPadding": 10, "title": "B/s", "titlePadding": 15}},
     "color": {"datum": "Clustered Average 0.76 KB/s", "scale": {"range": ["black"]}, "legend": {"title": null}}
    }},
   {"mark": {"type": "line", "opacity": 0},
    "encoding": {
     "x": {"field": "s", "type": "quantitative", "scale": {"domain": [-30, 640], "nice": false, "zero": false},
      "axis": {"orient": "bottom", "values": [-20,20,40,60,80,120,140,160,180,220,240,260,280,320,340,360,380,420,440,460,480,520,540,560,580,620], "labels": false, "tickSize": -4, "title": null}},
     "y": {"field": "b", "type": "quantitative", "scale": {"domain": [-960, 35560], "nice": false, "zero": false},
      "axis": {"orient": "left", "values": [1000,2000,3000,4000,6000,7000,8000,9000,11000,12000,13000,14000,16000,17000,18000,19000,21000,22000,23000,24000,26000,27000,28000,29000,31000,32000,33000,34000], "labels": false, "tickSize": -4, "title": null}}
    }},
   {"mark": {"type": "line", "opacity": 0},
    "encoding": {
     "x": {"field": "s", "type": "quantitative", "scale": {"domain": [-30, 640], "nice": false, "zero": false},
      "axis": {"orient": "top", "values": [0,100,200,300,400,500,600], "labels": false, "tickSize": -7, "title": "15 clients without work", "titleX": 508, "titleY": -18, "titleBaseline": "alphabetic", "titleAlign": "center", "titleFontSize": 22}},
     "y": {"field": "b", "type": "quantitative", "scale": {"domain": [-960, 35560], "nice": false, "zero": false},
      "axis": {"orient": "right", "values": [0,5000,10000,15000,20000,25000,30000,35000], "labels": false, "tickSize": -7, "title": null}}
    }},
   {"mark": {"type": "line", "opacity": 0},
    "encoding": {
     "x": {"field": "s", "type": "quantitative", "scale": {"domain": [-30, 640], "nice": false, "zero": false},
      "axis": {"orient": "top", "values": [-20,20,40,60,80,120,140,160,180,220,240,260,280,320,340,360,380,420,440,460,480,520,540,560,580,620], "labels": false, "tickSize": -4, "title": null}},
     "y": {"field": "b", "type": "quantitative", "scale": {"domain": [-960, 35560], "nice": false, "zero": false},
      "axis": {"orient": "right", "values": [1000,2000,3000,4000,6000,7000,8000,9000,11000,12000,13000,14000,16000,17000,18000,19000,21000,22000,23000,24000,26000,27000,28000,29000,31000,32000,33000,34000], "labels": false, "tickSize": -4, "title": null}}
    }}
  ],
  "resolve": {"scale": {"x": "independent", "y": "independent"}}},
 {"width": 506, "height": 305, "data": {"name": "tr"},
  "layer": [
   {"mark": {"type": "line"},
    "encoding": {
     "x": {"field": "s", "type": "quantitative", "scale": {"domain": [-28, 640], "nice": false, "zero": false},
      "axis": {"orient": "bottom", "values": [0,100,200,300,400,500,600], "format": "d", "tickSize": -7, "labelPadding": 18, "title": null}},
     "y": {"field": "b", "type": "quantitative", "scale": {"domain": [-960, 35560], "nice": false, "zero": false},
      "axis": {"orient": "left", "values": [0,5000,10000,15000,20000,25000,30000,35000], "labels": false, "tickSize": -7, "title": null}},
     "color": {"datum": "Non Clustered Average 6.96 KB/s", "scale": {"range": ["black"]}, "legend": {"title": null}}
    }},
   {"mark": {"type": "line", "opacity": 0},
    "encoding": {
     "x": {"field": "s", "type": "quantitative", "scale": {"domain": [-28, 640], "nice": false, "zero": false},
      "axis": {"orient": "bottom", "values": [-20,20,40,60,80,120,140,160,180,220,240,260,280,320,340,360,380,420,440,460,480,520,540,560,580,620], "labels": false, "tickSize": -4, "title": null}},
     "y": {"field": "b", "type": "quantitative", "scale": {"domain": [-960, 35560], "nice": false, "zero": false},
      "axis": {"orient": "left", "values": [1000,2000,3000,4000,6000,7000,8000,9000,11000,12000,13000,14000,16000,17000,18000,19000,21000,22000,23000,24000,26000,27000,28000,29000,31000,32000,33000,34000], "labels": false, "tickSize": -4, "title": null}}
    }},
   {"mark": {"type": "line", "opacity": 0},
    "encoding": {
     "x": {"field": "s", "type": "quantitative", "scale": {"domain": [-28, 640], "nice": false, "zero": false},
      "axis": {"orient": "top", "values": [0,100,200,300,400,500,600], "labels": false, "tickSize": -7, "title": null}},
     "y": {"field": "b", "type": "quantitative", "scale": {"domain": [-960, 35560], "nice": false, "zero": false},
      "axis": {"orient": "right", "values": [0,5000,10000,15000,20000,25000,30000,35000], "labels": false, "tickSize": -7, "title": null}}
    }},
   {"mark": {"type": "line", "opacity": 0},
    "encoding": {
     "x": {"field": "s", "type": "quantitative", "scale": {"domain": [-28, 640], "nice": false, "zero": false},
      "axis": {"orient": "top", "values": [-20,20,40,60,80,120,140,160,180,220,240,260,280,320,340,360,380,420,440,460,480,520,540,560,580,620], "labels": false, "tickSize": -4, "title": null}},
     "y": {"field": "b", "type": "quantitative", "scale": {"domain": [-960, 35560], "nice": false, "zero": false},
      "axis": {"orient": "right", "values": [1000,2000,3000,4000,6000,7000,8000,9000,11000,12000,13000,14000,16000,17000,18000,19000,21000,22000,23000,24000,26000,27000,28000,29000,31000,32000,33000,34000], "labels": false, "tickSize": -4, "title": null}}
    }}
  ],
  "resolve": {"scale": {"x": "independent", "y": "independent"}}},
 {"width": 505, "height": 305, "data": {"name": "bl"},
  "layer": [
   {"mark": {"type": "line"},
    "encoding": {
     "x": {"field": "s", "type": "quantitative", "scale": {"domain": [-30, 640], "nice": false, "zero": false},
      "axis": {"orient": "bottom", "values": [0,100,200,300,400,500,600], "format": "d", "tickSize": -7, "labelPadding": 18, "title": "Seconds", "titleX": 508, "titleY": 55, "titleBaseline": "alphabetic", "titleAlign": "center"}},
     "y": {"field": "b", "type": "quantitative", "scale": {"domain": [-3000, 65800], "nice": false, "zero": false},
      "axis": {"orient": "left", "values": [0,10000,20000,30000,40000,50000,60000], "format": "d", "tickSize": -7, "labelPadding": 10, "title": "B/s", "titlePadding": 15}},
     "color": {"datum": "Clustered Average 0.76 KB/s", "scale": {"range": ["black"]}, "legend": {"title": null}}
    }},
   {"mark": {"type": "line", "opacity": 0},
    "encoding": {
     "x": {"field": "s", "type": "quantitative", "scale": {"domain": [-30, 640], "nice": false, "zero": false},
      "axis": {"orient": "bottom", "values": [-20,20,40,60,80,120,140,160,180,220,240,260,280,320,340,360,380,420,440,460,480,520,540,560,580,620], "labels": false, "tickSize": -4, "title": null}},
     "y": {"field": "b", "type": "quantitative", "scale": {"domain": [-3000, 65800], "nice": false, "zero": false},
      "axis": {"orient": "left", "values": [-2000,2000,4000,6000,8000,12000,14000,16000,18000,22000,24000,26000,28000,32000,34000,36000,38000,42000,44000,46000,48000,52000,54000,56000,58000,62000,64000], "labels": false, "tickSize": -4, "title": null}}
    }},
   {"mark": {"type": "line", "opacity": 0},
    "encoding": {
     "x": {"field": "s", "type": "quantitative", "scale": {"domain": [-30, 640], "nice": false, "zero": false},
      "axis": {"orient": "top", "values": [0,100,200,300,400,500,600], "labels": false, "tickSize": -7, "title": "15 clients with work", "titleX": 508, "titleY": -10, "titleBaseline": "alphabetic", "titleAlign": "center", "titleFontSize": 22}},
     "y": {"field": "b", "type": "quantitative", "scale": {"domain": [-3000, 65800], "nice": false, "zero": false},
      "axis": {"orient": "right", "values": [0,10000,20000,30000,40000,50000,60000], "labels": false, "tickSize": -7, "title": null}}
    }},
   {"mark": {"type": "line", "opacity": 0},
    "encoding": {
     "x": {"field": "s", "type": "quantitative", "scale": {"domain": [-30, 640], "nice": false, "zero": false},
      "axis": {"orient": "top", "values": [-20,20,40,60,80,120,140,160,180,220,240,260,280,320,340,360,380,420,440,460,480,520,540,560,580,620], "labels": false, "tickSize": -4, "title": null}},
     "y": {"field": "b", "type": "quantitative", "scale": {"domain": [-3000, 65800], "nice": false, "zero": false},
      "axis": {"orient": "right", "values": [-2000,2000,4000,6000,8000,12000,14000,16000,18000,22000,24000,26000,28000,32000,34000,36000,38000,42000,44000,46000,48000,52000,54000,56000,58000,62000,64000], "labels": false, "tickSize": -4, "title": null}}
    }}
  ],
  "resolve": {"scale": {"x": "independent", "y": "independent"}}},
 {"width": 506, "height": 305, "data": {"name": "br"},
  "layer": [
   {"mark": {"type": "line"},
    "encoding": {
     "x": {"field": "s", "type": "quantitative", "scale": {"domain": [-28, 640], "nice": false, "zero": false},
      "axis": {"orient": "bottom", "values": [0,100,200,300,400,500,600], "format": "d", "tickSize": -7, "labelPadding": 18, "title": null}},
     "y": {"field": "b", "type": "quantitative", "scale": {"domain": [-3000, 65800], "nice": false, "zero": false},
      "axis": {"orient": "left", "values": [0,10000,20000,30000,40000,50000,60000], "labels": false, "tickSize": -7, "title": null}},
     "color": {"datum": "Non Clustered Average 7.66 KB/s", "scale": {"range": ["black"]}, "legend": {"title": null}}
    }},
   {"mark": {"type": "line", "opacity": 0},
    "encoding": {
     "x": {"field": "s", "type": "quantitative", "scale": {"domain": [-28, 640], "nice": false, "zero": false},
      "axis": {"orient": "bottom", "values": [-20,20,40,60,80,120,140,160,180,220,240,260,280,320,340,360,380,420,440,460,480,520,540,560,580,620], "labels": false, "tickSize": -4, "title": null}},
     "y": {"field": "b", "type": "quantitative", "scale": {"domain": [-3000, 65800], "nice": false, "zero": false},
      "axis": {"orient": "left", "values": [-2000,2000,4000,6000,8000,12000,14000,16000,18000,22000,24000,26000,28000,32000,34000,36000,38000,42000,44000,46000,48000,52000,54000,56000,58000,62000,64000], "labels": false, "tickSize": -4, "title": null}}
    }},
   {"mark": {"type": "line", "opacity": 0},
    "encoding": {
     "x": {"field": "s", "type": "quantitative", "scale": {"domain": [-28, 640], "nice": false, "zero": false},
      "axis": {"orient": "top", "values": [0,100,200,300,400,500,600], "labels": false, "tickSize": -7, "title": null}},
     "y": {"field": "b", "type": "quantitative", "scale": {"domain": [-3000, 65800], "nice": false, "zero": false},
      "axis": {"orient": "right", "values": [0,10000,20000,30000,40000,50000,60000], "labels": false, "tickSize": -7, "title": null}}
    }},
   {"mark": {"type": "line", "opacity": 0},
    "encoding": {
     "x": {"field": "s", "type": "quantitative", "scale": {"domain": [-28, 640], "nice": false, "zero": false},
      "axis": {"orient": "top", "values": [-20,20,40,60,80,120,140,160,180,220,240,260,280,320,340,360,380,420,440,460,480,520,540,560,580,620], "labels": false, "tickSize": -4, "title": null}},
     "y": {"field": "b", "type": "quantitative", "scale": {"domain": [-3000, 65800], "nice": false, "zero": false},
      "axis": {"orient": "right", "values": [-2000,2000,4000,6000,8000,12000,14000,16000,18000,22000,24000,26000,28000,32000,34000,36000,38000,42000,44000,46000,48000,52000,54000,56000,58000,62000,64000], "labels": false, "tickSize": -4, "title": null}}
    }}
  ],
  "resolve": {"scale": {"x": "independent", "y": "independent"}}}
]
}
